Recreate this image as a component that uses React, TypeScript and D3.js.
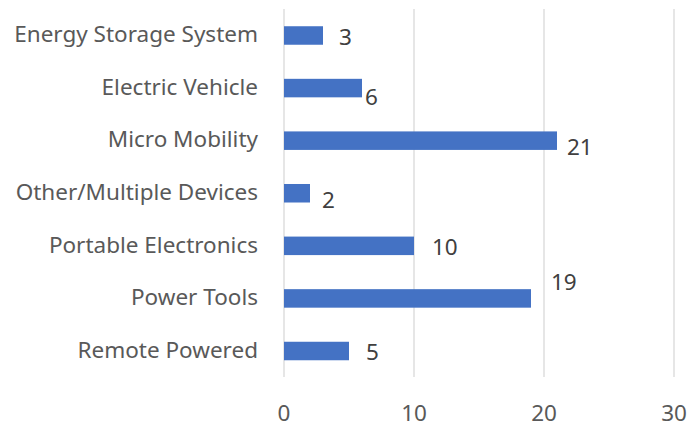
import React from "react";
import * as d3 from "d3";

const categories = [
  "Energy Storage System",
  "Electric Vehicle",
  "Micro Mobility",
  "Other/Multiple Devices",
  "Portable Electronics",
  "Power Tools",
  "Remote Powered",
];
const values = [3, 6, 21, 2, 10, 19, 5];
const xTicks = [0, 10, 20, 30];
// label nudges [dx, dy] relative to bar end / bar centre, as placed in the original
const labelNudge: [number, number][] = [
  [16, 1],
  [3, 9],
  [10, 6],
  [12, 7],
  [18, 1],
  [20, -16],
  [17, 1],
];

const W = 688;
const H = 424;
const FONT = "'Noto Sans', 'Open Sans', sans-serif";
const FS = 22.5;

export default function App() {
  const x = d3.scaleLinear().domain([0, 30]).range([284, 674]);
  const y = d3
    .scaleBand<string>()
    .domain(categories)
    .range([9.2, 377.3])
    .paddingInner(0.648)
    .paddingOuter(0.324);
  const bw = y.bandwidth();

  return (
    <svg
      width={W}
      height={H}
      style={{ position: "absolute", left: 0, top: 0, background: "#fff" }}
    >
      {xTicks.map((t) => (
        <line
          key={"g" + t}
          x1={x(t)}
          x2={x(t)}
          y1={9}
          y2={377}
          stroke="#d9d9d9"
          strokeWidth={1.3}
        />
      ))}
      {categories.map((c, i) => {
        const yc = (y(c) as number) + bw / 2;
        return (
          <g key={c}>
            <rect
              x={x(0)}
              y={y(c)}
              width={x(values[i]) - x(0)}
              height={bw}
              fill="#4472c4"
            />
            <text
              x={258}
              y={yc}
              dy="0.3em"
              textAnchor="end"
              fontFamily={FONT}
              fontSize={FS}
              fill="#595959"
            >
              {c}
            </text>
            <text
              x={x(values[i]) + labelNudge[i][0]}
              y={yc + labelNudge[i][1]}
              dy="0.357em"
              textAnchor="start"
              fontFamily={FONT}
              fontSize={FS}
              fill="#404040"
            >
              {values[i]}
            </text>
          </g>
        );
      })}
      {xTicks.map((t) => (
        <text
          key={"t" + t}
          x={x(t)}
          y={413}
          dy="0.357em"
          textAnchor="middle"
          fontFamily={FONT}
          fontSize={FS}
          fill="#595959"
        >
          {t}
        </text>
      ))}
    </svg>
  );
}
